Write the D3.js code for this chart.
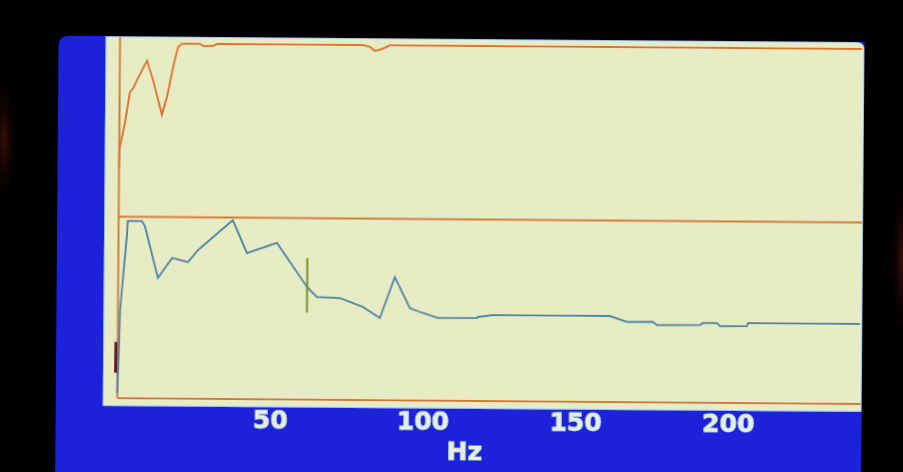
<!DOCTYPE html>
<html>
<head>
<meta charset="utf-8">
<script src="https://cdn.jsdelivr.net/npm/d3@7"></script>
<style>
  body { margin: 0; background: #000; }
  svg { display: block; }
</style>
</head>
<body>
<svg id="chart"></svg>
<script>
// upper trace (orange), Hz vs level 0-100
const topHz  = [0, 0.2, 1.8, 3.4, 4.4, 6.0, 8.9, 10.9, 13.9, 15.5, 17.4, 19.0, 20.3, 26.2, 27.2, 30.5, 31.8, 79.6, 81.9, 83.5, 85.8, 88.4, 243];
const topVal = [28, 40, 54, 72, 74, 80, 90, 79, 59, 69, 86, 98, 100, 100, 98.7, 98.8, 100, 100, 98.9, 96.6, 97.8, 100, 100];

// lower trace (blue)
const lowHz  = [0, 0.2, 0.5, 0.7, 1.6, 2.8, 3.0, 7.6, 8.6, 13.0, 17.6, 22.8, 26.1, 37.4, 42.1, 51.9, 61.9, 65.1, 72.7, 80.2, 85.8, 90.6, 95.6, 98.9, 104.8, 117.6, 117.9, 122.8, 161.1, 166.7, 175.2, 176.6, 190.6, 191.6, 196.2, 197.2, 206.0, 206.4, 243];
const lowVal = [3, 15, 32, 48.6, 66.8, 90.6, 97.7, 97.7, 95, 66.4, 77.5, 75.3, 82, 98.6, 80.5, 86.2, 62, 56.6, 56.1, 51.3, 45.3, 67.9, 50.9, 48.8, 45.6, 45.7, 46.3, 47.4, 47.4, 44.2, 44.3, 42.6, 42.8, 43.9, 44, 42.3, 42.4, 44.1, 44.1];

// cursor marks
const cursorHz = 61.9, cursorRange = [48, 78];
const markerHz = -0.6, markerRange = [14, 31];

const tickValues = [50, 100, 150, 200];
const unitLabel = "Hz";

const width = 903, height = 472;
const svg = d3.select("#chart").attr("width", width).attr("height", height);

svg.append("rect").attr("width", width).attr("height", height).attr("fill", "#000");

// faint reddish glow at the photo edges
const defs = svg.append("defs");
const glow = defs.append("radialGradient").attr("id", "glow");
glow.append("stop").attr("offset", "0%").attr("stop-color", "#4a120a").attr("stop-opacity", 0.8);
glow.append("stop").attr("offset", "100%").attr("stop-color", "#000").attr("stop-opacity", 0);
svg.append("ellipse").attr("cx", 4).attr("cy", 140).attr("rx", 14).attr("ry", 70).attr("fill", "url(#glow)");
svg.append("ellipse").attr("cx", 902).attr("cy", 260).attr("rx", 12).attr("ry", 90).attr("fill", "url(#glow)");

defs.append("filter").attr("id", "soft")
  .append("feGaussianBlur").attr("stdDeviation", 0.45);

// the screen is photographed slightly tilted
const screen = svg.append("g")
  .attr("transform", "rotate(0.45, 480, 240)")
  .attr("filter", "url(#soft)");

// blue bezel area
screen.append("path")
  .attr("d", "M57,490 L57,50 Q57,39 68,39 L863,39 L863,490 Z")
  .attr("fill", "#1b20da");

// cream plot area
screen.append("path")
  .attr("d", "M105,408 L105,40 L855,40 Q862,40 862,47 L862,408 Z")
  .attr("fill", "#e8ecc4")
  .attr("stroke", "#cfeef0")
  .attr("stroke-width", 1.5);

const x = d3.scaleLinear().domain([0, 243]).range([118.5, 860.5]);
const yTop = d3.scaleLinear().domain([0, 100]).range([219.5, 46]);
const yLow = d3.scaleLinear().domain([0, 100]).range([401, 219.5]);

const frame = "#d27a34";
// left axis, divider, bottom axis
screen.append("line").attr("x1", x(0)).attr("x2", x(0)).attr("y1", 40).attr("y2", yLow(0))
  .attr("stroke", frame).attr("stroke-width", 2);
screen.append("line").attr("x1", x(0)).attr("x2", 862).attr("y1", yTop(0)).attr("y2", yTop(0))
  .attr("stroke", frame).attr("stroke-width", 2);
screen.append("line").attr("x1", x(0)).attr("x2", 862).attr("y1", yLow(0)).attr("y2", yLow(0))
  .attr("stroke", frame).attr("stroke-width", 2);

const topLine = d3.line().x((d, i) => x(topHz[i])).y(d => yTop(d));
const lowLine = d3.line().x((d, i) => x(lowHz[i])).y(d => yLow(d));

screen.append("path").datum(topVal)
  .attr("d", topLine)
  .attr("fill", "none")
  .attr("stroke", "#e0722a")
  .attr("stroke-width", 2);

screen.append("path").datum(lowVal)
  .attr("d", lowLine)
  .attr("fill", "none")
  .attr("stroke", "#4f88a6")
  .attr("stroke-width", 2);

// cursors
screen.append("line")
  .attr("x1", x(cursorHz)).attr("x2", x(cursorHz))
  .attr("y1", yLow(cursorRange[0])).attr("y2", yLow(cursorRange[1]))
  .attr("stroke", "#6e8c1e").attr("stroke-width", 2);
screen.append("line")
  .attr("x1", x(markerHz)).attr("x2", x(markerHz))
  .attr("y1", yLow(markerRange[0])).attr("y2", yLow(markerRange[1]))
  .attr("stroke", "#6a1226").attr("stroke-width", 3);

// frequency axis labels
const xAxis = screen.append("g")
  .attr("transform", "translate(0, 410)")
  .call(d3.axisBottom(x).tickValues(tickValues).tickSize(0).tickPadding(2));
xAxis.select(".domain").remove();
xAxis.selectAll("text")
  .attr("fill", "#e6f0dc")
  .attr("stroke", "#9fd6ea")
  .attr("stroke-width", 0.8)
  .attr("paint-order", "stroke")
  .style("font-family", "'DejaVu Sans', sans-serif")
  .style("font-weight", "bold")
  .style("font-size", "25px");

screen.append("text")
  .attr("x", 466).attr("y", 460)
  .attr("text-anchor", "middle")
  .attr("fill", "#e6f0dc")
  .attr("stroke", "#9fd6ea")
  .attr("stroke-width", 0.8)
  .attr("paint-order", "stroke")
  .style("font-family", "'DejaVu Sans', sans-serif")
  .style("font-weight", "bold")
  .style("font-size", "25px")
  .text(unitLabel);
</script>
</body>
</html>
